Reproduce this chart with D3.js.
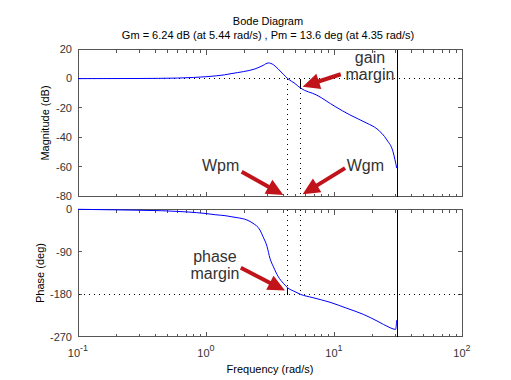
<!DOCTYPE html>
<html>
<head>
<meta charset="utf-8">
<script src="https://cdn.jsdelivr.net/npm/d3@7"></script>
<style>
  body { margin: 0; background: #fff; }
  svg { display: block; font-family: "Liberation Sans", Arial, sans-serif; }
</style>
</head>
<body>
<div id="vis"></div>
<script>
// Bode diagram with stability margins
let W = 511;
let H = 380;

// Data
let magFreq = [0.1, 0.3, 0.6, 0.8, 1.0, 1.2, 1.4, 1.57, 1.96, 2.41, 2.79, 3.07, 3.36, 3.67, 4.02, 4.35, 4.95, 5.44, 7.36, 10.2, 13.3, 18.1, 21.7, 25.9, 28.9, 30.9];
let magDb = [0, 0.1, 0.4, 0.8, 1.3, 1.9, 2.6, 3.4, 4.8, 6.6, 9.0, 10.7, 9.5, 6.5, 3.0, 0, -3.3, -6.24, -11.3, -19, -24.7, -30.4, -34.3, -41.8, -49.7, -61];
let phaseFreq = [0.1, 0.18, 0.3, 0.45, 0.6, 0.84, 1.0, 1.18, 1.41, 1.57, 1.75, 2.09, 2.33, 2.64, 2.79, 3.0, 3.16, 3.36, 3.67, 4.02, 4.35, 4.95, 5.44, 6.85, 9.3, 12.6, 16.9, 21.7, 27.4, 29.4, 30.3, 30.9];
let phaseDeg = [0, -1, -2, -3, -4.5, -7, -9, -11.5, -13.5, -15.6, -17.7, -22.7, -29.7, -43.9, -58, -79, -104, -121.6, -142.8, -156.8, -166.4, -174.6, -180, -187.3, -197, -209.8, -222.5, -236.7, -250.9, -254, -254.5, -235];

let magTicks = [20, 0, -20, -40, -60, -80];
let phaseTicks = [0, -90, -180, -270];
let decades = [-1, 0, 1, 2];

let gm = 6.24, wgm = 5.44, pm = 13.6, wpm = 4.35, wEnd = 31.1;

let svg = d3.select('#vis').append('svg').attr('width', W).attr('height', H);

// Scales
let x = d3.scaleLog().domain([0.1, 100]).range([78, 462]);
let yMag = d3.scaleLinear().domain([-80, 20]).range([196, 49.3]);
let yPh = d3.scaleLinear().domain([-270, 0]).range([336.7, 209.3]);

// snap to pixel centres so 1px lines stay crisp
let px = v => Math.round(v - 0.5) + 0.5;

// Title
svg.append('text').attr('x', 268).attr('y', 25).attr('text-anchor', 'middle')
    .attr('font-size', 11).text('Bode Diagram');
svg.append('text').attr('x', 268).attr('y', 39).attr('text-anchor', 'middle')
    .attr('font-size', 11)
    .text('Gm = ' + gm + ' dB (at ' + wgm + ' rad/s) ,  Pm = ' + pm + ' deg (at ' + wpm + ' rad/s)');

// Minor log ticks
let minor = [];
for (let d = -1; d < 2; d++) {
    for (let k = 2; k <= 9; k++) minor.push(k * Math.pow(10, d));
}

function tick(g, x1, y1, x2, y2) {
    g.append('line').attr('x1', x1).attr('y1', y1).attr('x2', x2).attr('y2', y2)
        .attr('stroke', '#555').attr('shape-rendering', 'crispEdges');
}

function drawPanel(y, ticks) {
    let g = svg.append('g');
    let [y0, y1] = y.range().map(px);
    ticks.forEach(t => {
        tick(g, 78, px(y(t)), 82, px(y(t)));
        tick(g, 462, px(y(t)), 458, px(y(t)));
        g.append('text').attr('x', 72).attr('y', y(t)).attr('dy', '0.35em')
            .attr('text-anchor', 'end').attr('font-size', 11).attr('fill', '#333').text(t);
    });
    minor.forEach(f => {
        tick(g, px(x(f)), y0, px(x(f)), y0 - 3);
        tick(g, px(x(f)), y1, px(x(f)), y1 + 3);
    });
    decades.forEach(d => {
        let f = Math.pow(10, d);
        tick(g, px(x(f)), y0, px(x(f)), y0 - 5);
        tick(g, px(x(f)), y1, px(x(f)), y1 + 5);
    });
    g.append('rect').attr('x', 78.5).attr('y', y1).attr('width', 384).attr('height', y0 - y1)
        .attr('fill', 'none').attr('stroke', '#555').attr('shape-rendering', 'crispEdges');
    return g;
}

drawPanel(yMag, magTicks);
drawPanel(yPh, phaseTicks);

// x tick labels
decades.forEach(d => {
    let t = svg.append('text').attr('x', x(Math.pow(10, d))).attr('y', 357)
        .attr('text-anchor', 'middle').attr('font-size', 11).attr('fill', '#333');
    t.append('tspan').text('10');
    t.append('tspan').attr('dy', -6).attr('font-size', 9).text(d);
});

// axis titles
svg.append('text').attr('x', 270).attr('y', 373).attr('text-anchor', 'middle')
    .attr('font-size', 11).text('Frequency  (rad/s)');
svg.append('text').attr('transform', 'translate(49,123) rotate(-90)').attr('text-anchor', 'middle')
    .attr('font-size', 11).text('Magnitude (dB)');
svg.append('text').attr('transform', 'translate(44,273) rotate(-90)').attr('text-anchor', 'middle')
    .attr('font-size', 11).text('Phase (deg)');

// margin guide lines
function seg(x1, y1, x2, y2, dotted) {
    svg.append('line').attr('x1', px(x1)).attr('y1', px(y1)).attr('x2', px(x2)).attr('y2', px(y2))
        .attr('stroke', '#000').attr('stroke-width', 1).attr('shape-rendering', 'crispEdges')
        .attr('stroke-dasharray', dotted ? '1,4' : null);
}
seg(78, yMag(0), 462, yMag(0), true);
seg(x(wpm), yMag(0), x(wpm), yMag(-80), true);
seg(x(wgm), yMag(-gm), x(wgm), yMag(-80), true);
seg(x(wgm), yMag(0), x(wgm), yMag(-gm), false);
seg(78, yPh(-180), 462, yPh(-180), true);
seg(x(wgm), yPh(0), x(wgm), yPh(-180), true);
seg(x(wpm), yPh(0), x(wpm), yPh(-180 + pm), true);
seg(x(wpm), yPh(-180 + pm), x(wpm), yPh(-180), false);
seg(x(wEnd), yMag(20), x(wEnd), yMag(-80), false);
seg(x(wEnd), yPh(0), x(wEnd), yPh(-270), false);

// curves
let magLine = d3.line().x(d => x(d[0])).y(d => yMag(d[1])).curve(d3.curveMonotoneX);
let phLine = d3.line().x(d => x(d[0])).y(d => yPh(d[1])).curve(d3.curveMonotoneX);
svg.append('path').datum(d3.zip(magFreq, magDb)).attr('d', magLine)
    .attr('fill', 'none').attr('stroke', '#0000ff').attr('stroke-width', 1);
svg.append('path').datum(d3.zip(phaseFreq, phaseDeg)).attr('d', phLine)
    .attr('fill', 'none').attr('stroke', '#0000ff').attr('stroke-width', 1);

// annotations: [y scale, tail freq, tail value, tip freq, tip value]
let arrows = [
    [yMag, 11.3, 3.0, 5.69, -5.45],
    [yMag, 1.90, -63.4, 4.02, -79.3],
    [yMag, 12.2, -61, 5.69, -78.8],
    [yPh, 1.87, -123.8, 4.14, -172.2]
];
let red = '#c0141a';
arrows.forEach(a => {
    let [y, f0, v0, f1, v1] = a;
    let x0 = x(f0), y0 = y(v0), x1 = x(f1), y1 = y(v1);
    let ang = Math.atan2(y1 - y0, x1 - x0);
    let len = 17, hw = 8;
    let bx = x1 - len * Math.cos(ang), by = y1 - len * Math.sin(ang);
    svg.append('line').attr('x1', x0).attr('y1', y0).attr('x2', bx + 2 * Math.cos(ang)).attr('y2', by + 2 * Math.sin(ang))
        .attr('stroke', red).attr('stroke-width', 4);
    let ox = -Math.sin(ang) * hw, oy = Math.cos(ang) * hw;
    svg.append('polygon')
        .attr('points', [[x1, y1], [bx + ox, by + oy], [bx - ox, by - oy]].map(p => p.join(',')).join(' '))
        .attr('fill', red);
});

let labels = [
    [yMag, 19.1, 10.7, 'gain'],
    [yMag, 19.1, -0.9, 'margin'],
    [yMag, 1.30, -62.9, 'Wpm'],
    [yMag, 17.6, -62.9, 'Wgm'],
    [yPh, 1.175, -111.7, 'phase'],
    [yPh, 1.175, -147.7, 'margin']
];
labels.forEach(l => {
    svg.append('text').attr('x', x(l[1])).attr('y', l[0](l[2])).attr('text-anchor', 'middle')
        .attr('font-size', 16).attr('fill', '#333').text(l[3]);
});
</script>
</body>
</html>
